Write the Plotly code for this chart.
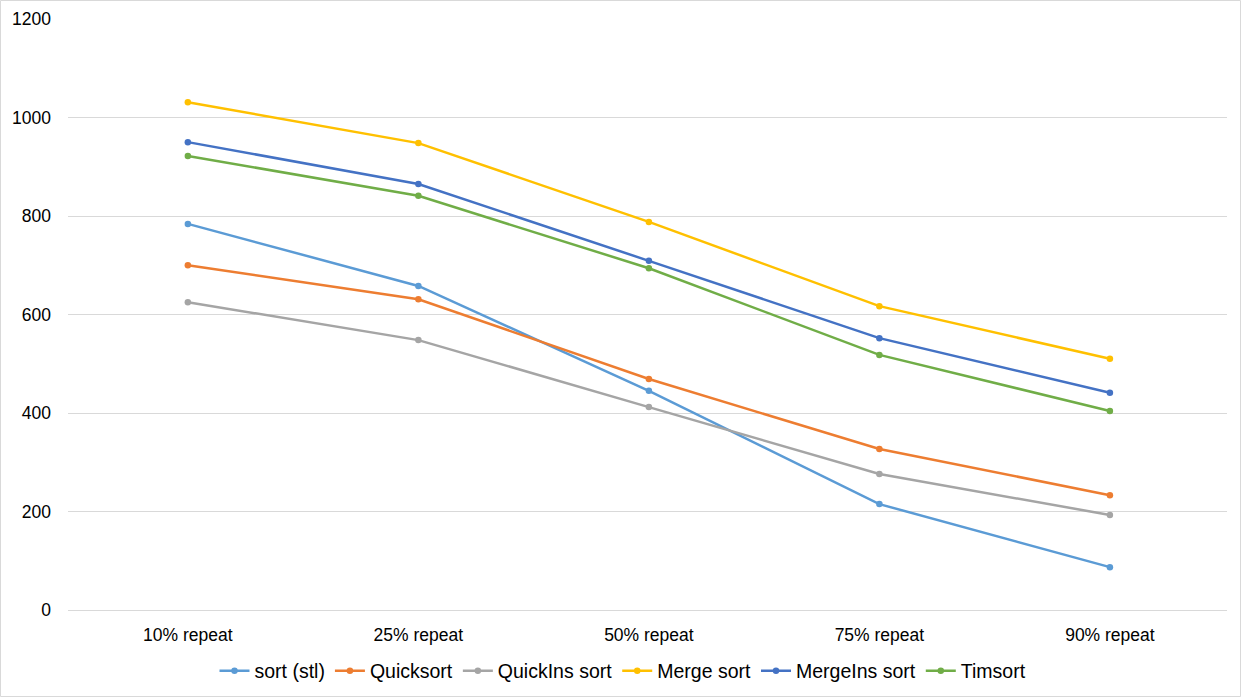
import plotly.graph_objects as go

categories = ["10% repeat", "25% repeat", "50% repeat", "75% repeat", "90% repeat"]
sort_stl = [784, 658, 445, 215, 87]
quicksort = [700, 631, 469, 327, 233]
quickins_sort = [625, 548, 412, 276, 193]
merge_sort = [1031, 948, 788, 617, 510]
mergeins_sort = [950, 865, 709, 552, 441]
timsort = [922, 841, 694, 518, 404]

series = [
    ("sort (stl)", sort_stl, "#5B9BD5"),
    ("Quicksort", quicksort, "#ED7D31"),
    ("QuickIns sort", quickins_sort, "#A5A5A5"),
    ("Merge sort", merge_sort, "#FFC000"),
    ("MergeIns sort", mergeins_sort, "#4472C4"),
    ("Timsort", timsort, "#70AD47"),
]

fig = go.Figure()
for name, vals, color in series:
    fig.add_trace(go.Scatter(
        x=categories, y=vals, name=name, mode="lines+markers",
        line=dict(color=color, width=2.5),
        marker=dict(color=color, size=6.5),
    ))

W, H = 1241, 697
ml, mr, mt, mb = 68, 14, 19, 87
pw, ph = W - ml - mr, H - mt - mb

fig.update_layout(
    width=W, height=H,
    margin=dict(l=ml, r=mr, t=mt, b=mb, autoexpand=False),
    paper_bgcolor="white", plot_bgcolor="white",
    font=dict(family="Liberation Sans, Arial, sans-serif", size=17, color="#000000"),
    showlegend=True,
    legend=dict(orientation="h", x=(623 - ml) / pw, xanchor="center", y=-61 / ph, yanchor="middle",
                font=dict(size=19.5), itemwidth=30, tracegroupgap=0),
    xaxis=dict(type="category", range=[-0.52, 4.508], showgrid=False, showline=False,
               ticks="", tickfont=dict(size=17.5), ticklabelstandoff=12),
    yaxis=dict(range=[0, 1200], dtick=200, showgrid=True, gridcolor="#D9D9D9", gridwidth=1,
               zeroline=True, zerolinecolor="#D9D9D9", zerolinewidth=1,
               showline=False, ticks="", tickfont=dict(size=17.5), ticklabelstandoff=16),
    shapes=[dict(type="rect", xref="paper", yref="paper",
                 x0=(-ml + 0.5) / pw, x1=(W - ml - 0.5) / pw,
                 y0=(-mb + 0.5) / ph, y1=(H - mb - 0.5) / ph,
                 line=dict(color="#D9D9D9", width=1), layer="below")],
)

fig.write_html("out.html", config={"displayModeBar": False},
               post_script="document.body.style.margin='0';document.body.style.overflow='hidden';")
